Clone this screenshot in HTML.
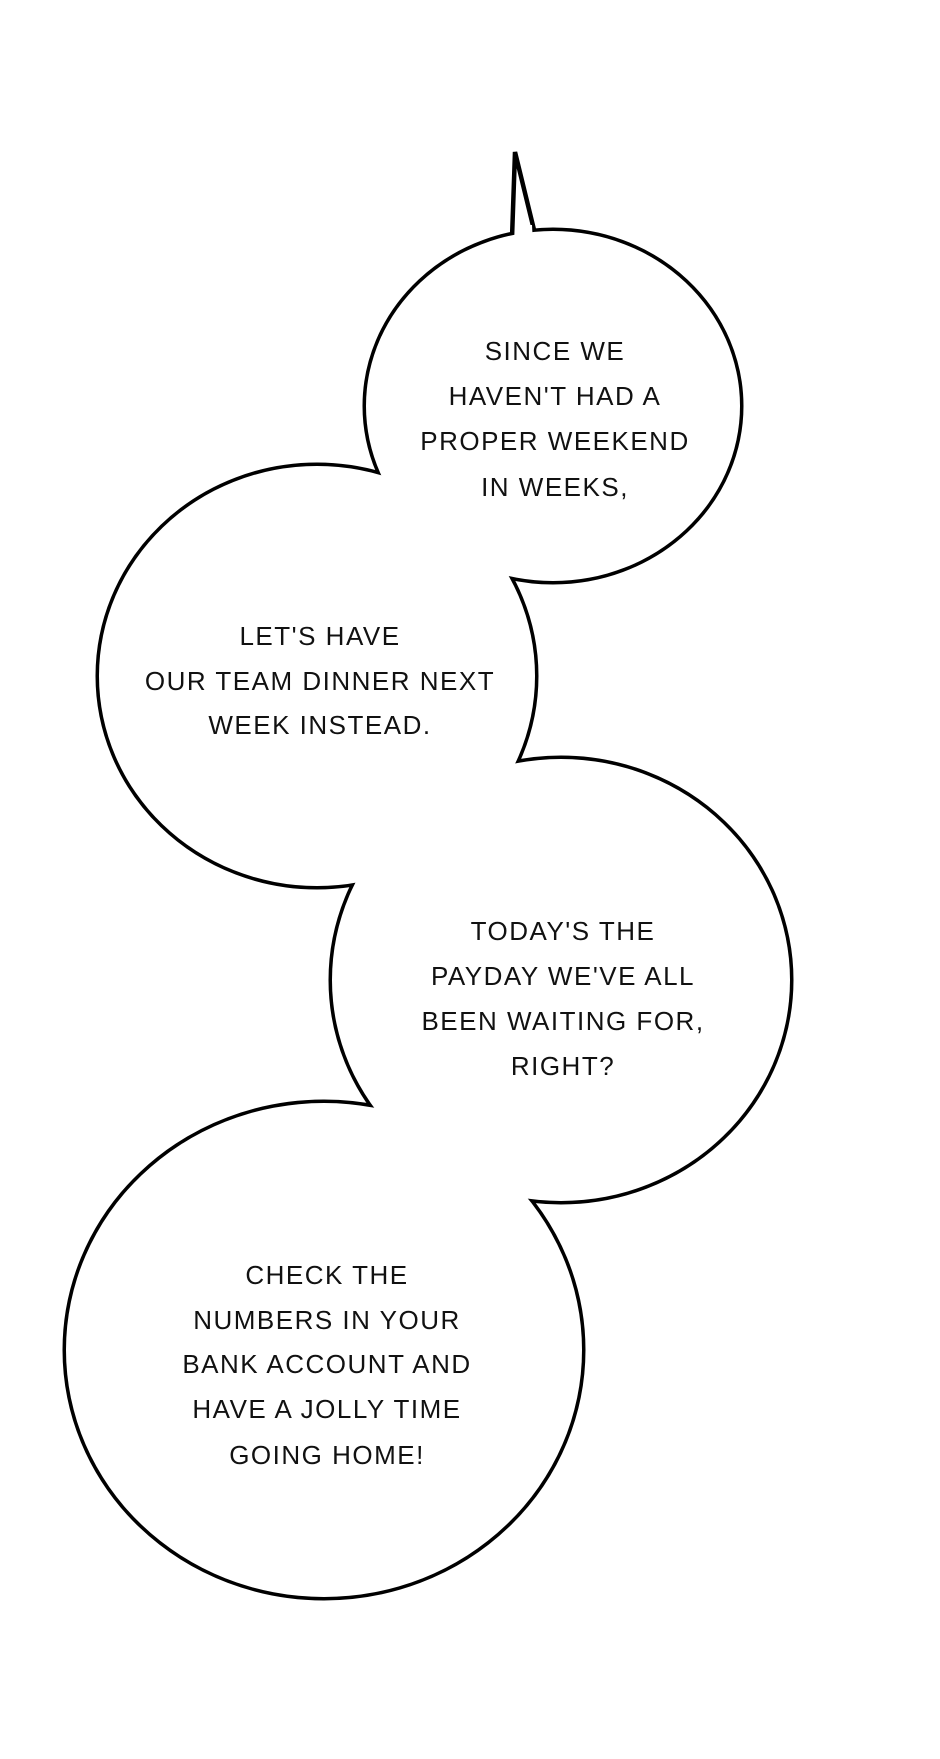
<!DOCTYPE html>
<html><head><meta charset="utf-8"><style>
html,body{margin:0;padding:0;background:#fff;}
svg{display:block;}
text{font-family:"Liberation Sans",sans-serif;font-size:26px;letter-spacing:1.5px;fill:#111;text-anchor:middle;dominant-baseline:middle;}
</style></head><body>
<svg width="940" height="1759" viewBox="0 0 940 1759" xmlns="http://www.w3.org/2000/svg">
<rect width="940" height="1759" fill="#fff"/>
<g fill="none" stroke="#000" stroke-width="7">
<ellipse cx="553" cy="406" rx="187" ry="175"/>
<ellipse cx="317" cy="676" rx="218" ry="210"/>
<ellipse cx="561" cy="980" rx="229" ry="221"/>
<ellipse cx="324" cy="1350" rx="258" ry="247"/>
</g>
<polygon points="512,238 515,152 535,234" fill="#fff" stroke="#000" stroke-width="4.5" stroke-linejoin="miter"/>
<g fill="#fff">
<ellipse cx="553" cy="406" rx="187" ry="175"/>
<ellipse cx="317" cy="676" rx="218" ry="210"/>
<ellipse cx="561" cy="980" rx="229" ry="221"/>
<ellipse cx="324" cy="1350" rx="258" ry="247"/>
<polygon points="515,245 516,225 532,225 533,245"/>
</g>
<text x="555" y="353">SINCE WE</text>
<text x="555" y="398">HAVEN'T HAD A</text>
<text x="555" y="443">PROPER WEEKEND</text>
<text x="555" y="489">IN WEEKS,</text>
<text x="320" y="638">LET'S HAVE</text>
<text x="320" y="683">OUR TEAM DINNER NEXT</text>
<text x="320" y="727">WEEK INSTEAD.</text>
<text x="563" y="933">TODAY'S THE</text>
<text x="563" y="978">PAYDAY WE'VE ALL</text>
<text x="563" y="1023">BEEN WAITING FOR,</text>
<text x="563" y="1068">RIGHT?</text>
<text x="327" y="1277">CHECK THE</text>
<text x="327" y="1322">NUMBERS IN YOUR</text>
<text x="327" y="1366">BANK ACCOUNT AND</text>
<text x="327" y="1411">HAVE A JOLLY TIME</text>
<text x="327" y="1457">GOING HOME!</text>
</svg>
</body></html>
